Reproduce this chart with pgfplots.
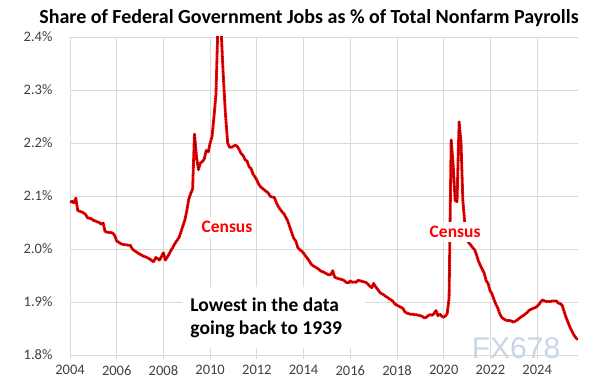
\documentclass[border=0pt]{standalone}
\usepackage{pgfplots}
\pgfplotsset{compat=1.18}
\usepackage{pgfplotstable}
\usepackage{fontspec}
\setmainfont{Carlito}
\newfontfamily\wmfont{Liberation Sans}
\definecolor{gridgray}{HTML}{D9D9D9}
\definecolor{ticktext}{HTML}{404040}
\definecolor{wm}{HTML}{C9D6E8}

\pgfplotstableread{
x y
2004.00 2.088
2004.08 2.090
2004.17 2.087
2004.25 2.096
2004.33 2.073
2004.42 2.071
2004.50 2.070
2004.58 2.068
2004.67 2.065
2004.75 2.059
2004.83 2.058
2004.92 2.057
2005.00 2.054
2005.08 2.053
2005.17 2.051
2005.25 2.050
2005.33 2.047
2005.42 2.049
2005.50 2.033
2005.58 2.032
2005.67 2.031
2005.75 2.031
2005.83 2.030
2005.92 2.025
2006.00 2.015
2006.08 2.013
2006.17 2.010
2006.25 2.009
2006.33 2.008
2006.42 2.008
2006.50 2.007
2006.58 2.007
2006.67 2.000
2006.75 1.997
2006.83 1.995
2006.92 1.992
2007.00 1.990
2007.08 1.988
2007.17 1.986
2007.25 1.985
2007.33 1.983
2007.42 1.981
2007.50 1.978
2007.58 1.976
2007.67 1.984
2007.75 1.982
2007.83 1.979
2007.92 1.986
2008.00 1.993
2008.08 1.979
2008.17 1.985
2008.25 1.991
2008.33 1.998
2008.42 2.004
2008.50 2.011
2008.58 2.016
2008.67 2.022
2008.75 2.032
2008.83 2.043
2008.92 2.055
2009.00 2.072
2009.08 2.093
2009.17 2.105
2009.25 2.113
2009.33 2.217
2009.42 2.172
2009.50 2.150
2009.58 2.162
2009.67 2.165
2009.75 2.170
2009.83 2.186
2009.92 2.183
2010.00 2.200
2010.08 2.212
2010.17 2.252
2010.25 2.292
2010.38 2.500
2010.55 2.338
2010.65 2.258
2010.75 2.200
2010.83 2.192
2010.92 2.192
2011.00 2.194
2011.08 2.196
2011.17 2.193
2011.25 2.187
2011.33 2.180
2011.42 2.176
2011.50 2.168
2011.58 2.166
2011.67 2.155
2011.75 2.152
2011.83 2.142
2011.92 2.136
2012.00 2.130
2012.08 2.122
2012.17 2.117
2012.25 2.114
2012.33 2.111
2012.42 2.108
2012.50 2.105
2012.58 2.099
2012.67 2.098
2012.75 2.097
2012.83 2.088
2012.92 2.080
2013.00 2.075
2013.08 2.070
2013.17 2.066
2013.25 2.059
2013.33 2.052
2013.42 2.040
2013.50 2.030
2013.58 2.020
2013.67 2.015
2013.75 2.003
2013.83 1.999
2013.92 1.996
2014.00 1.992
2014.08 1.987
2014.17 1.982
2014.25 1.977
2014.33 1.971
2014.42 1.968
2014.50 1.966
2014.58 1.964
2014.67 1.961
2014.75 1.958
2014.83 1.957
2014.92 1.955
2015.00 1.953
2015.08 1.951
2015.17 1.952
2015.25 1.959
2015.33 1.947
2015.42 1.945
2015.50 1.944
2015.58 1.943
2015.67 1.942
2015.75 1.940
2015.83 1.937
2015.92 1.936
2016.00 1.940
2016.08 1.937
2016.17 1.938
2016.25 1.937
2016.33 1.941
2016.42 1.940
2016.50 1.939
2016.58 1.938
2016.67 1.937
2016.75 1.934
2016.83 1.930
2016.92 1.927
2017.00 1.935
2017.08 1.929
2017.17 1.924
2017.25 1.919
2017.33 1.916
2017.42 1.914
2017.50 1.911
2017.58 1.909
2017.67 1.906
2017.75 1.904
2017.83 1.901
2017.92 1.896
2018.00 1.894
2018.08 1.892
2018.17 1.890
2018.25 1.888
2018.33 1.882
2018.42 1.879
2018.50 1.878
2018.58 1.877
2018.67 1.877
2018.75 1.876
2018.83 1.876
2018.92 1.875
2019.00 1.874
2019.08 1.873
2019.17 1.870
2019.25 1.871
2019.33 1.874
2019.42 1.876
2019.50 1.875
2019.58 1.878
2019.67 1.884
2019.75 1.874
2019.83 1.877
2019.92 1.873
2020.00 1.871
2020.08 1.874
2020.15 1.878
2020.23 1.907
2020.32 2.206
2020.40 2.162
2020.49 2.092
2020.57 2.089
2020.66 2.240
2020.74 2.202
2020.82 2.092
2020.90 2.050
2020.98 2.025
2021.07 2.012
2021.15 2.008
2021.23 2.003
2021.32 1.999
2021.40 1.990
2021.48 1.978
2021.56 1.970
2021.65 1.962
2021.73 1.955
2021.82 1.940
2021.90 1.935
2021.98 1.922
2022.07 1.915
2022.15 1.905
2022.23 1.896
2022.32 1.888
2022.40 1.878
2022.48 1.871
2022.57 1.868
2022.65 1.866
2022.73 1.865
2022.82 1.865
2022.90 1.864
2022.98 1.862
2023.07 1.864
2023.15 1.866
2023.23 1.869
2023.32 1.872
2023.40 1.874
2023.48 1.877
2023.57 1.880
2023.65 1.884
2023.73 1.886
2023.82 1.888
2023.90 1.889
2023.98 1.891
2024.07 1.895
2024.15 1.900
2024.23 1.904
2024.32 1.902
2024.40 1.901
2024.48 1.901
2024.57 1.901
2024.65 1.902
2024.73 1.902
2024.82 1.902
2024.90 1.898
2024.98 1.897
2025.07 1.894
2025.15 1.883
2025.23 1.872
2025.32 1.862
2025.40 1.853
2025.48 1.846
2025.57 1.838
2025.65 1.833
2025.73 1.829
}\fedshare

\begin{document}
\begin{tikzpicture}
\path[use as bounding box] (-70pt,-35pt) rectangle (525pt,355pt);
\begin{axis}[
  at={(0pt,0pt)}, anchor=south west,
  scale only axis, width=508pt, height=318pt,
  xmin=2004, xmax=2025.75, ymin=1.8, ymax=2.4,
  xtick={2004,2006,...,2024},
  ytick={1.8,1.9,...,2.41},
  grid=major,
  grid style={gridgray, line width=0.9pt},
  axis x line*=bottom, axis y line*=left,
  axis line style={gridgray, line width=0.9pt, -},
  tick style={gridgray, line width=0.9pt},
  tick align=outside, major tick length=4pt,
  ytick style={draw=none},
  /pgf/number format/assume math mode=true,
  xticklabel style={/pgf/number format/1000 sep={}, font=\fontsize{14.5}{16}\selectfont, text=ticktext, yshift=-3pt},
  yticklabel={\pgfmathprintnumber[fixed,fixed zerofill,precision=1]{\tick}\%},
  yticklabel style={font=\fontsize{14.5}{16}\selectfont, text=ticktext, xshift=-10pt},
  clip=true,
]
\addplot[red, line width=2.8pt, line join=round] table[x=x,y=y]{\fedshare};
\addplot[black, line width=0.9pt, dash pattern=on 0.9pt off 1.6pt] table[x=x,y=y]{\fedshare};

\node[fill=white, text=red, font=\bfseries\fontsize{17.5}{19}\selectfont, inner xsep=3pt, inner ysep=4pt] at (axis cs:2010.72,2.0415) {Census};
\node[fill=white, text=red, font=\bfseries\fontsize{17.5}{19}\selectfont, inner xsep=3pt, inner ysep=4pt] at (axis cs:2020.49,2.032) {Census};
\fill[white] (axis cs:2008.80,1.8132) rectangle (axis cs:2016.63,1.9283);
\node[anchor=west, align=left, font=\bfseries\fontsize{19.5}{23}\selectfont, inner sep=0pt] at (axis cs:2009.15,1.870) {Lowest in the data\\going back to 1939};
\end{axis}
\node[text=wm, font=\wmfont\fontsize{30}{30}\selectfont, inner sep=0pt, anchor=base] at (446pt,-4pt) {FX678};
\node[font=\bfseries\fontsize{20}{22}\selectfont] at (239pt,337pt) {Share of Federal Government Jobs as \% of Total Nonfarm Payrolls};
\end{tikzpicture}
\end{document}
